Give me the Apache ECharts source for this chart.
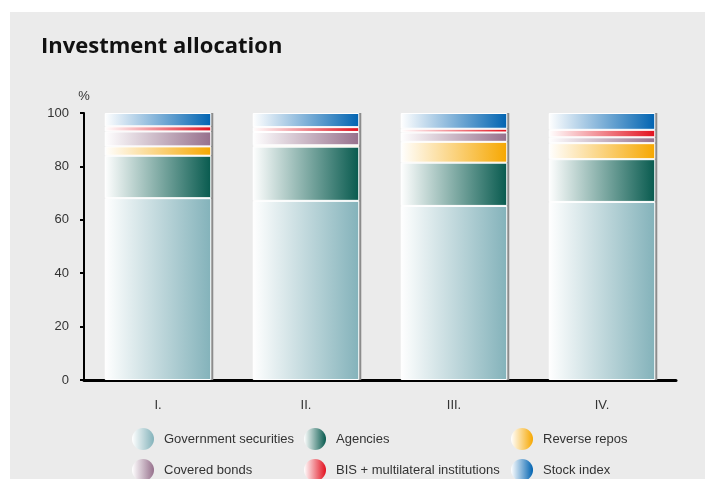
<!DOCTYPE html>
<html>
<head>
<meta charset="utf-8">
<title>Investment allocation</title>
<script src="https://cdn.jsdelivr.net/npm/echarts@6/dist/echarts.min.js"></script>
<style>
  html, body { margin: 0; padding: 0; background: #fff; }
  #main { width: 705px; height: 479px; }
</style>
</head>
<body>
<div id="main"></div>
<script>
// 数据
const quarters = ['I.', 'II.', 'III.', 'IV.'];
const govSecurities = [68.1, 67.1, 65.2, 66.7];
const agencies = [15.9, 20.3, 16.2, 16.0];
const reverseRepos = [3.5, 0.5, 7.8, 6.0];
const coveredBonds = [5.6, 5.0, 3.5, 2.2];
const bisMultilateral = [1.9, 1.8, 1.4, 2.8];
const stockIndex = [5.0, 5.3, 5.9, 6.3];

const labelFont = '"Liberation Sans", Arial, sans-serif';
const barRatio = 0.72; // 柱宽占类目宽度的比例

// 每个系列：名称、数据、颜色
const seriesDefs = [
    { name: 'Government securities', data: govSecurities, color: '#83b2ba' },
    { name: 'Agencies', data: agencies, color: '#075a4e' },
    { name: 'Reverse repos', data: reverseRepos, color: '#f6a700' },
    { name: 'Covered bonds', data: coveredBonds, color: '#96708c' },
    { name: 'BIS + multilateral institutions', data: bisMultilateral, color: '#e2101e' },
    { name: 'Stock index', data: stockIndex, color: '#0063b1' }
];

// 每根柱子的总高度（用于右侧阴影）
const totals = quarters.map((q, i) => seriesDefs.reduce((s, d) => s + d.data[i], 0));

// 横向渐变：左白右色
function grad(color) {
    return new echarts.graphic.LinearGradient(0, 0, 1, 0, [
        { offset: 0, color: '#ffffff' },
        { offset: 1, color: color }
    ]);
}

const chart = echarts.init(document.getElementById('main'));

const series = seriesDefs.map(d => ({
    name: d.name,
    type: 'bar',
    stack: 'total',
    data: d.data,
    barWidth: (barRatio * 100) + '%',
    z: 3,
    itemStyle: {
        color: grad(d.color),
        borderColor: '#ffffff',
        borderWidth: 1
    },
    emphasis: { disabled: true }
}));

// 柱子右侧的灰色阴影条
series.push({
    type: 'custom',
    name: 'shadow',
    z: 2,
    silent: true,
    data: quarters.map((q, i) => [i, totals[i]]),
    renderItem: (params, api) => {
        const top = api.coord([api.value(0), api.value(1)]);
        const base = api.coord([api.value(0), 0]);
        const bw = api.size([1, 0])[0] * barRatio;
        return {
            type: 'rect',
            shape: { x: top[0] + bw / 2 - 0.5, y: top[1], width: 2.5, height: base[1] - top[1] },
            style: { fill: '#8c8c8c' }
        };
    }
});

// 图例位置（三列两行）
const legendPos = [
    [132, 428], [304, 428], [511, 428],
    [132, 459], [304, 459], [511, 459]
];
const legends = seriesDefs.map((d, i) => ({
    data: [d.name],
    left: legendPos[i][0],
    top: legendPos[i][1],
    padding: 0,
    icon: 'circle',
    itemWidth: 24,
    itemHeight: 22,
    selectedMode: false,
    itemStyle: { borderWidth: 0 },
    textStyle: {
        fontFamily: labelFont,
        fontSize: 13,
        color: '#333',
        padding: [0, 0, 0, 4]
    }
}));

const option = {
    backgroundColor: '#ffffff',
    animation: false,
    graphic: [{
        type: 'rect',
        z: -10,
        shape: { x: 10, y: 12, width: 695, height: 467 },
        style: { fill: '#ebebeb' }
    }],
    title: {
        text: 'Investment allocation',
        left: 36,
        top: 31,
        textStyle: {
            fontFamily: '"Open Sans", "Noto Sans", sans-serif',
            fontWeight: 'bold',
            fontSize: 22,
            color: '#111'
        }
    },
    legend: legends,
    grid: { left: 84, right: 29, top: 113, bottom: 99 },
    xAxis: {
        type: 'category',
        data: quarters,
        axisLine: { lineStyle: { color: '#000', width: 3 } },
        axisTick: { show: false },
        axisLabel: {
            margin: 19,
            fontFamily: labelFont,
            fontSize: 13,
            color: '#333'
        }
    },
    yAxis: {
        type: 'value',
        min: 0,
        max: 100,
        interval: 20,
        name: '%',
        nameLocation: 'end',
        nameGap: 10,
        nameTextStyle: { fontFamily: labelFont, fontSize: 13, color: '#333' },
        splitLine: { show: false },
        axisLine: { show: true, lineStyle: { color: '#000', width: 2 } },
        axisTick: { show: true, length: 4, lineStyle: { color: '#000', width: 2 } },
        axisLabel: {
            margin: 15,
            fontFamily: labelFont,
            fontSize: 13,
            color: '#333'
        }
    },
    series: series
};

chart.setOption(option);
</script>
</body>
</html>
